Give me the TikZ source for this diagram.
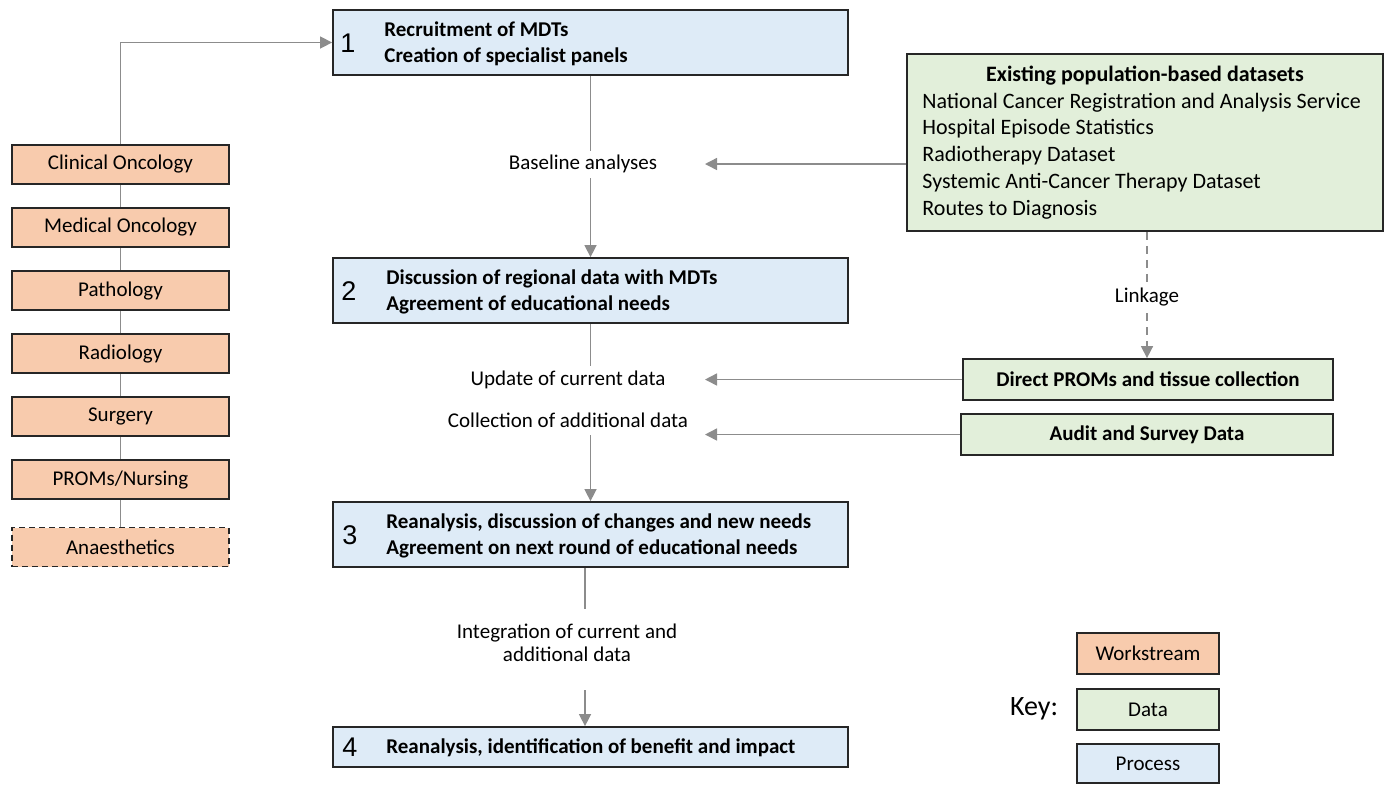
\documentclass[tikz,border=0pt]{standalone}
\usepackage{fontspec}
\setmainfont{Carlito}
\newfontfamily\numfont{Liberation Sans}
\usetikzlibrary{arrows.meta}

\definecolor{wsfill}{HTML}{F8CBAD}
\definecolor{datafill}{HTML}{E2EFDA}
\definecolor{procfill}{HTML}{DEEBF7}
\definecolor{boxline}{HTML}{262626}
\definecolor{linkgray}{HTML}{8C8C8C}

\tikzset{
  box/.style={draw=boxline, line width=0.9pt, inner sep=0pt, align=center},
  workstream/.style={box, fill=wsfill, minimum width=108.5pt, minimum height=19.5pt},
  datum/.style={box, fill=datafill},
  process/.style={box, fill=procfill, minimum width=257.5pt},
  keybox/.style={box, minimum width=71pt, minimum height=20.5pt},
  num/.style={font=\numfont\fontsize{13.5}{14}\selectfont, inner sep=0pt},
  ptext/.style={font=\fontsize{10.5}{13}\selectfont\bfseries, align=left, inner sep=0pt, anchor=west},
  flowlabel/.style={align=center, inner sep=0pt},
  conn/.style={draw=linkgray, line width=0.75pt},
  arr/.style={conn, -{Triangle[length=6pt,width=6pt]}}
}

\begin{document}
\begin{tikzpicture}[x=0.5pt, y=-0.5pt, font=\fontsize{10.5}{13.4}\selectfont]
  \useasboundingbox (0,0) rectangle (1390,784);

  % process steps
  \node[process, minimum height=32.5pt] (p1) at (590.5,42.5) {};
  \node[num] (n1) at (348,43) {1};
  \node[ptext] (t1) at (384,43.5) {Recruitment of MDTs\\Creation of specialist panels};

  \node[process, minimum height=32.5pt] (p2) at (590.5,290.5) {};
  \node[num] (n2) at (349,291) {2};
  \node[ptext] (t2) at (386,291.5) {Discussion of regional data with MDTs\\Agreement of educational needs};

  \node[process, minimum height=32.5pt] (p3) at (590.5,534.5) {};
  \node[num] (n3) at (350,535) {3};
  \node[ptext] (t3) at (386,535.5) {Reanalysis, discussion of changes and new needs\\Agreement on next round of educational needs};

  \node[process, minimum height=20pt] (p4) at (590.5,747) {};
  \node[num] (n4) at (350,747) {4};
  \node[ptext] (t4) at (386,747.5) {Reanalysis, identification of benefit and impact};

  % labels between the steps
  \node[flowlabel] (l1) at (583,164) {Baseline analyses};
  \node[flowlabel] (l2a) at (568,380) {Update of current data};
  \node[flowlabel] (l2b) at (568,420) {Collection of additional data};
  \node[flowlabel, font=\fontsize{10.5}{11.5}\selectfont] (l3) at (567,643) {Integration of current and\\additional data};

  \coordinate (mid3) at (585,0);
  \coordinate (tip) at (705,0);

  \draw[conn] (p1.south) -- ++(0,75);
  \draw[arr] (p1.south |- 0,178) -- (p2.north);
  \draw[conn] (p2.south) -- ++(0,42);
  \draw[arr] (p2.south |- 0,435) -- (p3.north);
  \draw[conn] (p3.south -| mid3) -- ++(0,41);
  \draw[arr] (mid3 |- 0,690) -- (p4.north -| mid3);

  % data sources
  \node[datum, minimum width=238pt, minimum height=88.5pt] (ds) at (1145,142.5) {};
  \node[font=\fontsize{11}{13.4}\selectfont\bfseries, inner sep=0pt] (dstitle) at (1145,76) {Existing population-based datasets};
  \node[font=\fontsize{11}{13.4}\selectfont, align=left, anchor=west, inner sep=0pt] (dslist) at (922,156)
    {National Cancer Registration and Analysis Service\\Hospital Episode Statistics\\Radiotherapy Dataset\\Systemic Anti-Cancer Therapy Dataset\\Routes to Diagnosis};

  \node[datum, minimum width=185pt, minimum height=20.5pt, font=\fontsize{10.5}{13}\selectfont\bfseries] (proms) at (1148,379.5) {Direct PROMs and tissue collection};
  \node[datum, minimum width=186pt, minimum height=20.5pt, font=\fontsize{10.5}{13}\selectfont\bfseries] (audit) at (1147,434.5) {Audit and Survey Data};

  \node[flowlabel] (link) at (1147,297) {Linkage};
  \draw[conn, dashed, dash pattern=on 4pt off 3pt] (ds.south -| link) -- ++(0,50);
  \draw[arr, dashed, dash pattern=on 4pt off 3pt] (link.south |- 0,313) -- (proms.north -| link);

  \draw[arr] (ds.west |- l1) -- (tip |- l1);
  \draw[arr] (proms.west) -- (tip |- proms.west);
  \draw[arr] (audit.west) -- (tip |- audit.west);

  % workstreams
  \node[workstream] (w1) at (120.5,164.5) {Clinical Oncology};
  \node[workstream] (w2) at (120.5,227.5) {Medical Oncology};
  \node[workstream] (w3) at (120.5,290.5) {Pathology};
  \node[workstream] (w4) at (120.5,353.5) {Radiology};
  \node[workstream] (w5) at (120.5,416.5) {Surgery};
  \node[workstream] (w6) at (120.5,479.5) {PROMs/Nursing};
  \node[workstream, dashed, dash pattern=on 3pt off 2pt] (w7) at (120.5,547) {Anaesthetics};

  \draw[conn] (w1.south) -- (w2.north) (w2.south) -- (w3.north) (w3.south) -- (w4.north)
    (w4.south) -- (w5.north) (w5.south) -- (w6.north) (w6.south) -- (w7.north);
  \draw[arr] (w1.north) |- (p1.west);

  % key
  \node[font=\fontsize{14}{16}\selectfont, inner sep=0pt] (key) at (1034,709) {Key:};
  \node[keybox, fill=wsfill] (k1) at (1148,653.5) {Workstream};
  \node[keybox, fill=datafill] (k2) at (1148,709.5) {Data};
  \node[keybox, fill=procfill, minimum height=19.5pt] (k3) at (1148,763.5) {Process};
\end{tikzpicture}
\end{document}
